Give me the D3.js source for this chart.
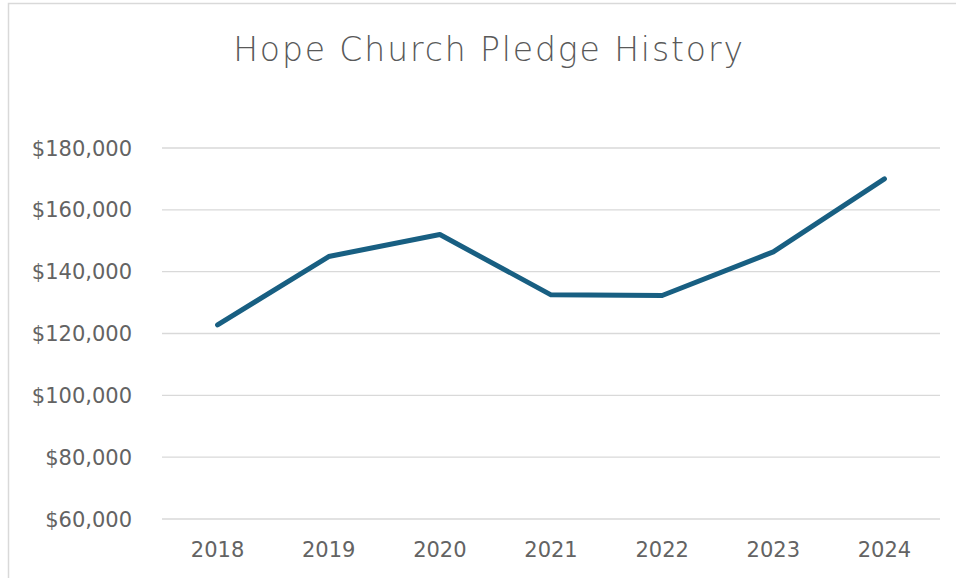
<!DOCTYPE html>
<html lang="en">
<head>
  <meta charset="UTF-8">
  <title>Hope Church Pledge History</title>
  <script src="https://d3js.org/d3.v7.min.js"></script>
  <style>
    body { margin: 0; background: #fff; font-family: "DejaVu Sans", sans-serif; }
    svg { display: block; }
    .grid line { stroke: #d9d9d9; stroke-width: 1.3; }
    .tick-label { fill: #636363; font-size: 21px; }
  </style>
</head>
<body>
  <svg width="956" height="578"></svg>
  <script>
    const years = ["2018", "2019", "2020", "2021", "2022", "2023", "2024"];
    const pledges = [122800, 144900, 152000, 132500, 132300, 146400, 170000];
    const yTicks = [60000, 80000, 100000, 120000, 140000, 160000, 180000];

    const svg = d3.select("svg");
    const margin = {top: 148, right: 16, bottom: 59, left: 162};
    const width = 956, height = 578;

    // chart frame (extends past the bottom/right edge)
    svg.append("rect")
      .attr("x", 8.5).attr("y", 3.5)
      .attr("width", 1000).attr("height", 1000)
      .attr("fill", "none")
      .attr("stroke", "#d9d9d9")
      .attr("stroke-width", 1.5);

    svg.append("text")
      .attr("x", 489).attr("y", 61)
      .attr("text-anchor", "middle")
      .attr("fill", "#595959")
      .style("font-size", "33px")
      .style("font-weight", "200")
      .style("letter-spacing", "1.9px")
      .text("Hope Church Pledge History");

    const x = d3.scalePoint()
      .domain(years)
      .range([margin.left, width - margin.right])
      .padding(0.5);

    const y = d3.scaleLinear()
      .domain([60000, 180000])
      .range([height - margin.bottom, margin.top]);

    const fmt = d => "$" + d3.format(",")(d);

    svg.append("g").attr("class", "grid")
      .selectAll("line")
      .data(yTicks)
      .join("line")
      .attr("x1", margin.left).attr("x2", width - margin.right)
      .attr("y1", d => y(d)).attr("y2", d => y(d));

    svg.append("g")
      .selectAll("text")
      .data(yTicks)
      .join("text")
      .attr("class", "tick-label")
      .attr("x", 132)
      .attr("y", d => y(d))
      .attr("dy", "0.36em")
      .attr("text-anchor", "end")
      .text(fmt);

    svg.append("g")
      .selectAll("text")
      .data(years)
      .join("text")
      .attr("class", "tick-label")
      .attr("x", d => x(d))
      .attr("y", 557)
      .attr("text-anchor", "middle")
      .text(d => d);

    const line = d3.line()
      .x((d, i) => x(years[i]))
      .y(d => y(d));

    svg.append("path")
      .datum(pledges)
      .attr("fill", "none")
      .attr("stroke", "#185f82")
      .attr("stroke-width", 5)
      .attr("stroke-linejoin", "round")
      .attr("stroke-linecap", "round")
      .attr("d", line);
  </script>
</body>
</html>
